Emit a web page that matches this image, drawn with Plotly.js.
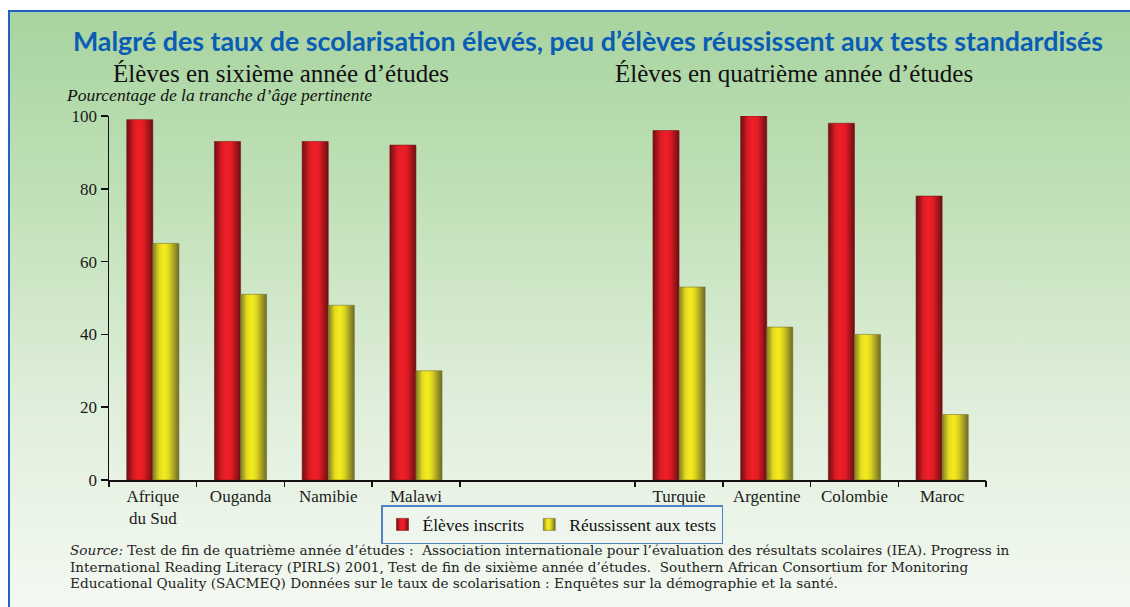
<!DOCTYPE html>
<html>
<head>
<meta charset="utf-8">
<script src="https://cdn.plot.ly/plotly-3.0.1.min.js"></script>
<style>
  html, body { margin:0; padding:0; width:1130px; height:607px; overflow:hidden; background:#ffffff; }
  #bg { position:absolute; left:8px; top:10px; width:1122px; height:597px;
        border-left:2px solid #1f63c6; border-top:2px solid #1f63c6; box-sizing:border-box;
        background:linear-gradient(to bottom, #a8d49f 0%, #c4e2bc 35%, #dfeeda 65%, #f4f9f2 100%); }
  #chart { position:absolute; left:0; top:0; width:1130px; height:607px; }
</style>
</head>
<body>
<div id="bg"></div>
<div id="chart"></div>
<script>
// ---- data ----
const countries6 = ['Afrique<br>du Sud', 'Ouganda', 'Namibie', 'Malawi'];
const countries4 = ['Turquie', 'Argentine', 'Colombie', 'Maroc'];
const enrolled6 = [99, 93, 93, 92];
const passing6  = [65, 51, 48, 30];
const enrolled4 = [96, 100, 98, 78];
const passing4  = [53, 42, 40, 18];
const spacers = [' ', '  '];
const seriesNames = ['Élèves inscrits', 'Réussissent aux tests'];
const yTicks = [0, 20, 40, 60, 80, 100];
const sourceLines = [
  '<i>Source:</i> Test de fin de quatrième année d’études :  Association internationale pour l’évaluation des résultats scolaires (IEA). Progress in',
  'International Reading Literacy (PIRLS) 2001, Test de fin de sixième année d’études.  Southern African Consortium for Monitoring',
  'Educational Quality (SACMEQ) Données sur le taux de scolarisation : Enquêtes sur la démographie et la santé.'
];

// ---- build category list with gap ----
const cats = countries6.concat(spacers, countries4);
const enrolled = enrolled6.concat([null, null], enrolled4);
const passing = passing6.concat([null, null], passing4);

// boundaries between categories (excluding between the spacer slots)
const boundaries = [];
for (let i = 0; i <= cats.length; i++) {
  if (i === countries6.length + 1) continue;
  boundaries.push(i - 0.5);
}

// plot area geometry
const W = 1130, H = 607;
const L = 109, R = 986, T = 116, B = 480;
const px2x = p => (p - L) / (R - L);
const px2y = p => (B - p) / (B - T);

const serif = 'Liberation Serif, Times New Roman, serif';
const wideSerif = 'DejaVu Serif, serif';

const traces = [
  { type:'bar', x:cats, y:enrolled, name:seriesNames[0],
    marker:{ color:'#e41c24', line:{ color:'#7a1418', width:0.6 } } },
  { type:'bar', x:cats, y:passing, name:seriesNames[1],
    marker:{ color:'#eee41c', line:{ color:'#77752c', width:0.6 } } },
  { type:'scatter', x:[0], y:[0], xaxis:'x2', yaxis:'y', mode:'markers',
    marker:{ opacity:0 }, showlegend:false, hoverinfo:'skip' }
];

const annotations = [
  { text: 'Élèves en sixième année d’études', xref: 'paper', yref: 'paper',
    x: px2x(112), y: px2y(73), xanchor: 'left', yanchor: 'middle', showarrow: false, borderpad: 0,
    font: { family: serif, size: 25, color: '#111' } },
  { text: 'Élèves en quatrième année d’études', xref: 'paper', yref: 'paper',
    x: px2x(614), y: px2y(73), xanchor: 'left', yanchor: 'middle', showarrow: false, borderpad: 0,
    font: { family: serif, size: 25, color: '#111' } },
  { text: '<i>Pourcentage de la tranche d’âge pertinente</i>', xref: 'paper', yref: 'paper',
    x: px2x(65), y: px2y(95), xanchor: 'left', yanchor: 'middle', showarrow: false, borderpad: 0,
    font: { family: serif, size: 17.5, color: '#111' } }
];
sourceLines.forEach((t, i) => {
  annotations.push({ text: t, xref: 'paper', yref: 'paper',
    x: px2x(69), y: px2y(550 + i * 16.7), xanchor: 'left', yanchor: 'middle',
    align: 'left', showarrow: false, borderpad: 0,
    font: { family: wideSerif, size: 13.6, color: '#222' } });
});

const layout = {
  width: W, height: H,
  paper_bgcolor: 'rgba(0,0,0,0)', plot_bgcolor: 'rgba(0,0,0,0)',
  margin: { l: L, r: W - R, t: T, b: H - B, pad: 0 },
  barmode: 'group', bargap: 0.405, bargroupgap: 0,
  showlegend: true,
  title: { text: 'Malgré des taux de scolarisation élevés, peu d’élèves réussissent aux tests standardisés',
           x: 588 / W, xanchor: 'center', y: 1 - 42 / H, yanchor: 'middle',
           font: { family: 'Lato, Open Sans, sans-serif', size: 26.8, color: '#0b5cb5', weight: 700 } },
  xaxis: {
    type: 'category', categoryorder: 'array', categoryarray: cats,
    range: [-0.5, cats.length - 0.5],
    showline: true, linecolor: '#111', linewidth: 1.5,
    ticks: '', showgrid: false, zeroline: false,
    tickfont: { family: serif, size: 17, color: '#1a1a1a' }
  },
  xaxis2: {
    overlaying: 'x', anchor: 'y', side: 'bottom', type: 'linear',
    range: [-0.5, cats.length - 0.5],
    tickmode: 'array', tickvals: boundaries, ticktext: boundaries.map(() => ''),
    ticks: 'outside', ticklen: 6, tickwidth: 1.5, tickcolor: '#111',
    showline: false, showgrid: false, zeroline: false, showticklabels: false
  },
  yaxis: {
    range: [0, 100], tickmode: 'array', tickvals: yTicks,
    showline: true, linecolor: '#111', linewidth: 1.5,
    ticks: 'outside', ticklen: 7, tickwidth: 1.5, tickcolor: '#111',
    showgrid: false, zeroline: false,
    tickfont: { family: serif, size: 17, color: '#1a1a1a' }
  },
  legend: {
    orientation: 'h', x: px2x(552), xanchor: 'center', y: px2y(505), yanchor: 'top',
    bgcolor: '#eef5ec', bordercolor: '#4f84c4', borderwidth: 1.5,
    font: { family: serif, size: 17.5, color: '#111' },
    itemwidth: 30, traceorder: 'normal'
  },
  annotations: annotations
};

function addGradients(gd) {
  const svg = gd.querySelector('svg.main-svg');
  const NS = 'http://www.w3.org/2000/svg';
  let defs = svg.querySelector('defs');
  if (!defs) { defs = document.createElementNS(NS, 'defs'); svg.insertBefore(defs, svg.firstChild); }
  const mk = (id, stops) => {
    const g = document.createElementNS(NS, 'linearGradient');
    g.setAttribute('id', id); g.setAttribute('x1', '0'); g.setAttribute('x2', '1');
    g.setAttribute('y1', '0'); g.setAttribute('y2', '0');
    stops.forEach(([o, c]) => {
      const s = document.createElementNS(NS, 'stop');
      s.setAttribute('offset', o); s.setAttribute('stop-color', c);
      g.appendChild(s);
    });
    defs.appendChild(g);
  };
  mk('gradRed', [['0', '#6c1013'], ['0.28', '#dc1b23'], ['0.45', '#ef1f27'], ['0.65', '#e41c24'], ['1', '#6a0f12']]);
  mk('gradYel', [['0', '#7d7b2c'], ['0.25', '#e6dc1c'], ['0.45', '#f4ec1e'], ['0.62', '#ddd41d'], ['1', '#6c6a2a']]);
  const ids = ['gradRed', 'gradYel'];
  gd.querySelectorAll('.barlayer .trace').forEach((t, i) => {
    t.querySelectorAll('path').forEach(p => { p.style.fill = 'url(#' + ids[i] + ')'; });
  });
  gd.querySelectorAll('.legend .traces').forEach((t, i) => {
    t.querySelectorAll('.legendpoints path').forEach(p => { p.style.fill = 'url(#' + ids[i] + ')'; });
  });
}

Plotly.newPlot('chart', traces, layout, { staticPlot: true, displayModeBar: false })
  .then(gd => addGradients(gd));
</script>
</body>
</html>
